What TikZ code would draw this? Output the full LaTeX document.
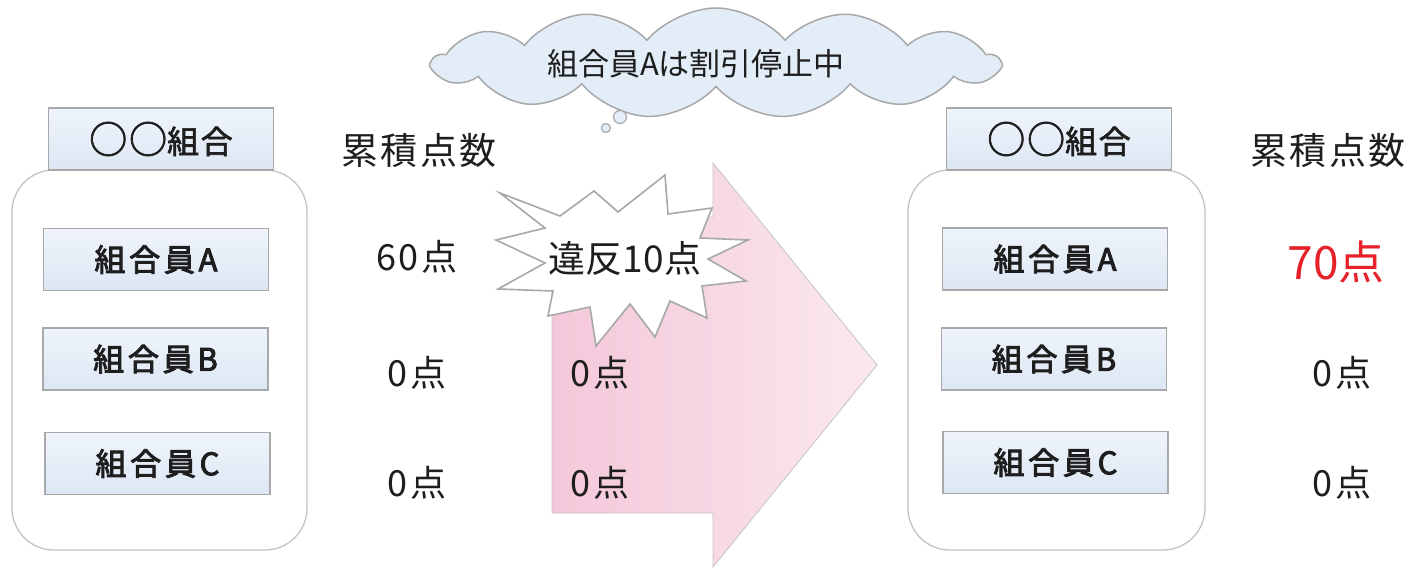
\documentclass[tikz,border=0pt]{standalone}
\usepackage{fontspec}
\setmainfont{Noto Sans CJK JP}
\newfontfamily\memfont{Noto Sans CJK JP}[LetterSpace=12, FakeBold=3]
\newfontfamily\hdrfont{Noto Sans CJK JP}[LetterSpace=5, FakeBold=2]
\newfontfamily\numfont{Noto Sans CJK JP}[LetterSpace=6]
\usetikzlibrary{shapes.symbols}
\definecolor{boxtop}{HTML}{EFF4FB}
\definecolor{boxbot}{HTML}{DCE7F4}
\definecolor{boxline}{HTML}{A8A8A8}
\definecolor{contline}{HTML}{C4C4C4}
\definecolor{pinkL}{HTML}{F4C8DA}
\definecolor{pinkR}{HTML}{FBE8F0}
\definecolor{cloudfill}{HTML}{E3EDF8}
\definecolor{txt}{HTML}{1E1E1E}
\definecolor{redtxt}{HTML}{E62129}
\tikzset{
  membox/.style={rectangle, draw=boxline, line width=1.2pt, top color=boxtop, bottom color=boxbot,
    minimum width=225pt, minimum height=62pt, inner sep=0pt, text=txt,
    font=\memfont\fontsize{31}{31}\selectfont},
  hdrbox/.style={membox, font=\hdrfont\fontsize{32}{32}\selectfont},
  contbox/.style={draw=contline, line width=1.3pt, rounded corners=42pt, fill=white},
  lbl/.style={text=txt, inner sep=0pt},
  bigarrow/.style={left color=pinkL, right color=pinkR, draw=contline, line width=0.8pt},
  starshape/.style={fill=white, draw=boxline, line width=1.6pt, line join=miter},
  thought/.style={shape=cloud, cloud puffs=13, cloud puff arc=100, aspect=5.2, fill=cloudfill,
    draw=boxline, line width=1.5pt, minimum width=566pt, minimum height=110pt, inner sep=0pt},
  bubble/.style={circle, fill=cloudfill, draw=boxline, line width=1.2pt, inner sep=0pt}
}
\begin{document}
\begin{tikzpicture}[x=1pt,y=-1pt]
\useasboundingbox (0,0) rectangle (1422,570);
\fill[white] (0,0) rectangle (1422,570);

% arrow
\draw[bigarrow] (552,217) -- (713,217) -- (713,163) -- (877,365) -- (713,567) -- (713,513) -- (552,513) -- cycle;

% explosion
\draw[starshape] (500,193) -- (560,216) -- (594,191) -- (618,212) -- (665,175) -- (668,214)
  -- (712,208) -- (700,238) -- (748,240) -- (708,259) -- (746,281) -- (702,286) -- (707,318)
  -- (670,301) -- (655,337) -- (630,304) -- (596,346) -- (590,307) -- (548,316) -- (553,291)
  -- (498,289) -- (545,263) -- (496,240) -- (545,228) -- cycle;
\node[lbl, font=\fontsize{37}{37}\selectfont] (viol) at (625,258) {違反10点};

% cloud
\node[thought] (cloud) at (716,63) {};
\node[lbl, font=\fontsize{31}{31}\selectfont] (cloudtxt) at (696,64) {組合員Aは割引停止中};
\node[bubble, minimum size=13pt] (b1) at (620,117) {};
\node[bubble, minimum size=9pt] (b2) at (606,128) {};

% left group
\draw[contbox] (12,170) rectangle (307,550);
\node[hdrbox] (lh) at (161,139) {{\fontsize{38}{32}\selectfont ○○}組合};
\node[membox] (la) at (156,259.5) {組合員A};
\node[membox] (lb) at (155.5,359) {組合員B};
\node[membox] (lc) at (157.5,463.5) {組合員C};

% right group
\draw[contbox] (908,170) rectangle (1205,550);
\node[hdrbox] (rh) at (1059,139) {{\fontsize{38}{32}\selectfont ○○}組合};
\node[membox] (ra) at (1055,259) {組合員A};
\node[membox] (rb) at (1054,359) {組合員B};
\node[membox] (rc) at (1055.5,462.5) {組合員C};

% scores
\node[lbl, font=\numfont\fontsize{37}{37}\selectfont] (lt) at (419,150) {累積点数};
\node[lbl, font=\numfont\fontsize{37}{37}\selectfont] (rt) at (1328,150) {累積点数};
\node[lbl, font=\numfont\fontsize{36}{36}\selectfont] (l60) at (417,257) {60点};
\node[lbl, font=\numfont\fontsize{36}{36}\selectfont] (l0b) at (417,373) {0点};
\node[lbl, font=\numfont\fontsize{36}{36}\selectfont] (l0c) at (417,483) {0点};
\node[lbl, font=\numfont\fontsize{36}{36}\selectfont] (m0b) at (600,373) {0点};
\node[lbl, font=\numfont\fontsize{36}{36}\selectfont] (m0c) at (600,483) {0点};
\node[lbl, text=redtxt, font=\fontsize{46}{46}\selectfont] (r70) at (1336,262) {70点};
\node[lbl, font=\numfont\fontsize{36}{36}\selectfont] (r0b) at (1342,373) {0点};
\node[lbl, font=\numfont\fontsize{36}{36}\selectfont] (r0c) at (1342,483) {0点};
\end{tikzpicture}
\end{document}
